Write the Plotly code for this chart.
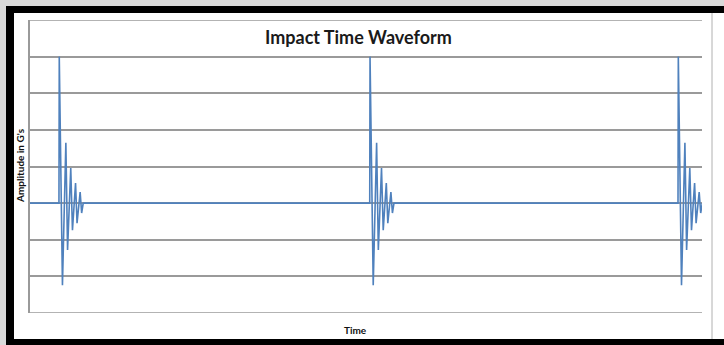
import plotly.graph_objects as go

# --- data (time in ms, amplitude in G) ---
burst_start_ms = [9.45, 109.8, 209.35]
burst_offset_ms = [-0.1, 0.0, 1.03, 2.13, 2.68, 3.71, 4.26, 5.26, 5.74, 6.74, 7.23, 7.74]
burst_amplitude_g = [0.0, 4.0, -2.24, 1.65, -1.28, 0.96, -0.74, 0.55, -0.55, 0.30, -0.27, 0.0]
time_start_ms = 0.0
time_end_ms = 217.0
y_ticks = [-3, -2, -1, 0, 1, 2, 3, 4, 5]

time_ms = [time_start_ms]
amp_g = [0.0]
for s in burst_start_ms:
    for o, a in zip(burst_offset_ms, burst_amplitude_g):
        time_ms.append(s + o)
        amp_g.append(a)
time_ms.append(time_end_ms)
amp_g.append(0.0)

W, H = 724, 345
L, R, T, B = 30, 22, 20, 32
PW, PH = W - L - R, H - T - B


def px(x):
    return (x - L) / PW


def py(y):
    return (H - B - y) / PH


fig = go.Figure()
fig.add_trace(go.Scatter(
    x=time_ms, y=amp_g, mode="lines",
    line=dict(color="#4F81BD", width=1.6),
    hoverinfo="skip", showlegend=False,
))

shapes = []


def rect(x0, y0, x1, y1, color):
    shapes.append(dict(type="rect", xref="paper", yref="paper",
                       x0=px(x0), x1=px(x1), y0=py(y1), y1=py(y0),
                       fillcolor=color, line=dict(width=0), layer="above"))


rect(0, 0, W, 6, "#d9d9d9")
rect(0, 0, 6, H, "#d9d9d9")
rect(6, 6, W, 13, "#000000")
rect(6, 6, 14, H, "#000000")
rect(6, 339, W, H, "#000000")
shapes.append(dict(type="line", xref="paper", yref="paper",
                   x0=px(712), x1=px(712), y0=py(13), y1=py(339),
                   line=dict(color="#b0b0b0", width=1)))
# gridlines at the two edges of the value range
for v in (y_ticks[0], y_ticks[-1]):
    shapes.append(dict(type="line", xref="paper", yref="y",
                       x0=0, x1=1, y0=v, y1=v,
                       line=dict(color="#9a9a9a", width=1.5), layer="below"))

fig.update_layout(
    width=W, height=H,
    margin=dict(l=L, r=R, t=T, b=B),
    paper_bgcolor="white", plot_bgcolor="white",
    shapes=shapes,
    annotations=[
        dict(text="Impact Time Waveform", xref="paper", yref="paper",
             x=px(358.5), y=py(37), showarrow=False, xanchor="center", yanchor="middle",
             font=dict(family="Lato", size=18, color="#1a1a1a", weight="bold")),
        dict(text="Amplitude in G's", xref="paper", yref="paper",
             x=px(20), y=py(166), showarrow=False, textangle=-90,
             xanchor="center", yanchor="middle",
             font=dict(family="Lato", size=10, color="#111", weight="bold")),
        dict(text="Time", xref="paper", yref="paper",
             x=px(355), y=py(330), showarrow=False, xanchor="center", yanchor="middle",
             font=dict(family="Lato", size=10, color="#111", weight="bold")),
    ],
    xaxis=dict(range=[time_start_ms, time_end_ms], showgrid=False, zeroline=False,
               showline=False, showticklabels=False, ticks=""),
    yaxis=dict(range=[-3, 5], tickvals=y_ticks, showgrid=True, gridcolor="#9a9a9a",
               gridwidth=1.5, zeroline=True, zerolinecolor="#9a9a9a", zerolinewidth=1.5,
               showline=True, linecolor="#9a9a9a", linewidth=1.5,
               showticklabels=False, ticks=""),
)

fig.write_html(
    "out.html",
    config={"displayModeBar": False},
    post_script="document.body.style.margin='0';document.body.style.overflow='hidden';",
)
